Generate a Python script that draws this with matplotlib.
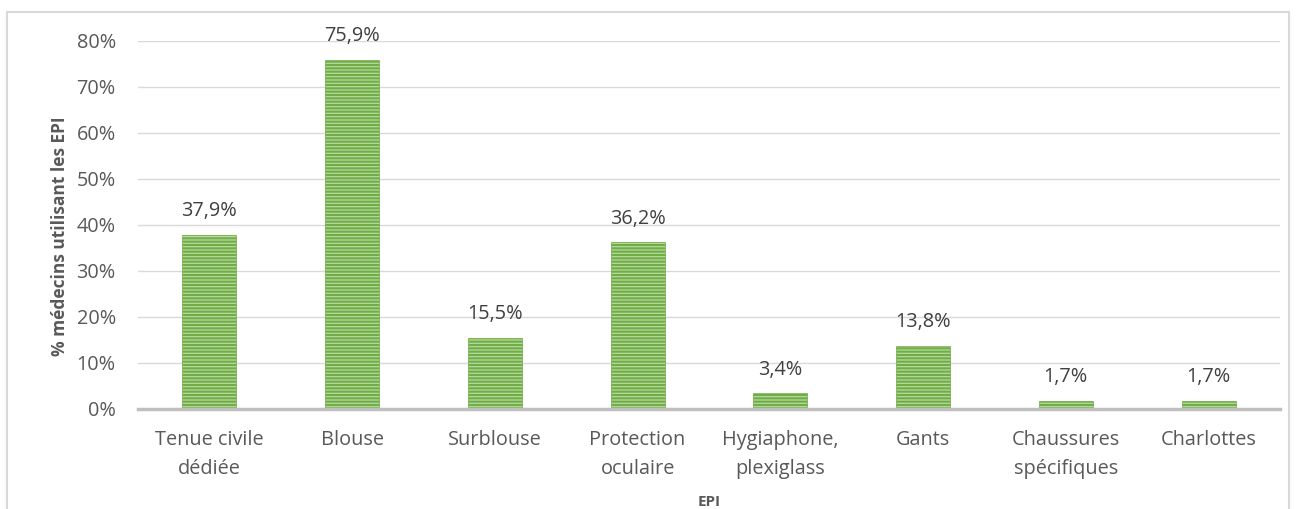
import matplotlib.pyplot as plt
from matplotlib.patches import Rectangle
from matplotlib.ticker import FuncFormatter

plt.rcParams['font.family'] = ['Open Sans', 'DejaVu Sans']
plt.rcParams['hatch.linewidth'] = 1.5

categories = ['Tenue civile\ndédiée', 'Blouse', 'Surblouse', 'Protection\noculaire',
              'Hygiaphone,\nplexiglass', 'Gants', 'Chaussures\nspécifiques', 'Charlottes']
values = [37.9, 75.9, 15.5, 36.2, 3.4, 13.8, 1.7, 1.7]
labels = ['37,9%', '75,9%', '15,5%', '36,2%', '3,4%', '13,8%', '1,7%', '1,7%']

fig = plt.figure(figsize=(12.98, 5.09), dpi=100)
ax = fig.add_axes([138 / 1298, 1 - 409 / 509, (1280 - 138) / 1298, (409 - 41) / 509])

# outer frame like the spreadsheet chart
fig.patches.append(Rectangle((7 / 1298, -0.1), (1289 - 7) / 1298, 1.1 - 12 / 509,
                             transform=fig.transFigure, fill=False,
                             edgecolor='#d9d9d9', linewidth=1.5))

x = range(len(categories))
bars = ax.bar(x, values, width=0.38, color='#b5d99c', edgecolor='#70ad47',
              hatch='-----', linewidth=0.5, zorder=3)

for i, v in enumerate(values):
    ax.text(i, v + 3.0, labels[i], ha='center', va='bottom', fontsize=14.3, color='#404040')

ax.set_xlim(-0.5, len(categories) - 0.5)
ax.set_ylim(0, 80)
ax.set_yticks(range(0, 81, 10))
ax.yaxis.set_major_formatter(FuncFormatter(lambda v, p: '%d%%' % v))
ax.grid(axis='y', color='#d9d9d9', linewidth=1, zorder=0)
ax.set_xticks(list(x))
ax.set_xticklabels(categories, fontsize=14.3, color='#595959', linespacing=1.6)
ax.tick_params(axis='y', labelsize=14.3, labelcolor='#595959', length=0, pad=16)
ax.tick_params(axis='x', length=0, pad=15)

for s in ['top', 'right', 'left']:
    ax.spines[s].set_visible(False)
ax.spines['bottom'].set_color('#bfbfbf')
ax.spines['bottom'].set_linewidth(2.5)
ax.spines['bottom'].set_zorder(4)

ax.set_ylabel('% médecins utilisant les EPI', fontsize=12.5, fontweight='bold', color='#595959')
ax.yaxis.set_label_coords(-0.06, 0.47)
ax.set_xlabel('EPI', fontsize=11, fontweight='bold', color='#595959')
ax.xaxis.set_label_coords(0.5, -0.235)

fig.savefig('out.png', dpi=100)
